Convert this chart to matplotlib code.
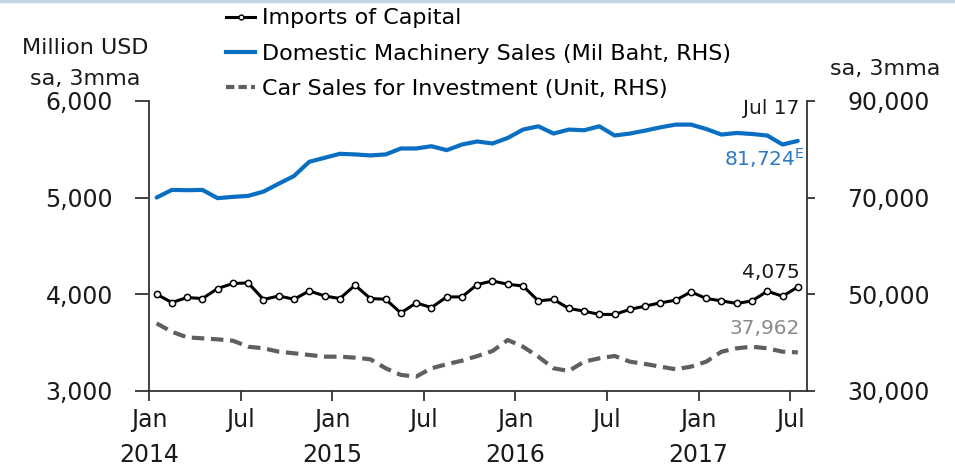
import numpy as np
import matplotlib
matplotlib.use('Agg')
import matplotlib.pyplot as plt
from matplotlib.lines import Line2D

# monthly data, Jan 2014 .. Jul 2017 (sa, 3mma)
imports = [4000, 3914, 3966, 3955, 4059, 4111, 4117, 3945, 3982, 3948,
           4034, 3982, 3955, 4093, 3955, 3948, 3806, 3910, 3862, 3972,
           3972, 4100, 4137, 4103, 4085, 3931, 3946, 3853, 3825, 3791,
           3791, 3843, 3877, 3911, 3938, 4024, 3956, 3931, 3904, 3931,
           4031, 3979, 4075]
machinery = [70000, 71580, 71520, 71580, 69870, 70140, 70340, 71230, 72870, 74460,
             77400, 78220, 79050, 78920, 78710, 78920, 80150, 80150, 80620, 79800,
             80970, 81600, 81180, 82330, 84060, 84740, 83240, 84060, 83920, 84740,
             82830, 83240, 83850, 84530, 85090, 85090, 84180, 83030, 83360, 83150,
             82830, 80970, 81724]
cars = [43960, 42230, 41070, 40870, 40660, 40380, 39140, 38810, 38110, 37780,
        37430, 37080, 37080, 36870, 36540, 34680, 33300, 32950, 34680, 35510,
        36250, 37200, 38250, 40520, 39140, 37080, 34680, 34120, 36040, 36740,
        37220, 36040, 35570, 35010, 34470, 35010, 36040, 38110, 38810, 39140,
        38810, 38110, 37962]

tick_pos = [0, 6, 12, 18, 24, 30, 36, 42]
tick_lab = ['Jan\n2014', 'Jul', 'Jan\n2015', 'Jul', 'Jan\n2016', 'Jul', 'Jan\n2017', 'Jul']

x = np.arange(len(imports)) + 0.5

fig = plt.figure(figsize=(9.55, 4.67), dpi=100)
ax = fig.add_axes([0.156, 0.163, 0.689, 0.621])
ax2 = ax.twinx()

blue = '#0a6fc2'
gray = '#5f5f5f'
spine_c = '#333333'
txt_c = '#1a1a1a'

ax2.plot(x, machinery, color=blue, lw=3, solid_capstyle='round', zorder=3)
ax2.plot(x, cars, color=gray, lw=3, dashes=(3, 1.6), zorder=2)
ax.plot(x, imports, color='black', lw=2.2, marker='o', markersize=4.5,
        markerfacecolor='white', markeredgecolor='black', markeredgewidth=1.1, zorder=4)

ax.set_zorder(ax2.get_zorder() + 1)
ax.patch.set_visible(False)

ax.set_xlim(0, 43.1)
ax.set_ylim(3000, 6000)
ax2.set_ylim(30000, 90000)
ax.set_yticks([3000, 4000, 5000, 6000])
ax.set_yticklabels(['3,000', '4,000', '5,000', '6,000'])
ax2.set_yticks([30000, 50000, 70000, 90000])
ax2.set_yticklabels(['30,000', '50,000', '70,000', '90,000'])
ax.set_xticks(tick_pos)
ax.set_xticklabels(tick_lab, linespacing=1.6, va='top')

for a in (ax, ax2):
    a.spines['top'].set_visible(False)
    for s in a.spines.values():
        s.set_color(spine_c)
        s.set_linewidth(1.3)
ax.spines['right'].set_visible(False)
ax2.spines['left'].set_visible(False)
ax2.spines['bottom'].set_visible(False)

ax.tick_params(axis='y', direction='out', length=10, width=1.3, color=spine_c,
               labelsize=17, pad=16, labelcolor=txt_c)
ax.tick_params(axis='x', direction='out', length=7, width=1.3, color=spine_c,
               labelsize=17, pad=5, labelcolor=txt_c)
ax2.tick_params(axis='y', direction='out', length=6, width=1.3, color=spine_c,
                labelsize=17, pad=23, labelcolor=txt_c)

# end-point annotations
ax2.text(42.6, 88500, 'Jul 17', ha='right', va='center', fontsize=14.5, color=txt_c)
ax2.text(42.95, 78200, r'81,724$^{\mathrm{E}}$', ha='right', va='center', fontsize=14.5, color='#2e78c8')
ax.text(42.6, 4225, '4,075', ha='right', va='center', fontsize=14.5, color=txt_c)
ax.text(42.6, 3644, '37,962', ha='right', va='center', fontsize=14.5, color='#8a8a8a')

# unit labels
fig.text(0.089, 0.897, 'Million USD', ha='center', va='center', fontsize=16, color=txt_c)
fig.text(0.089, 0.83, 'sa, 3mma', ha='center', va='center', fontsize=16, color=txt_c)
fig.text(0.927, 0.853, 'sa, 3mma', ha='center', va='center', fontsize=16, color=txt_c)

handles = [
    Line2D([], [], color='black', lw=2.2, marker='o', markersize=3.5,
           markerfacecolor='white', markeredgecolor='black'),
    Line2D([], [], color=blue, lw=3),
    Line2D([], [], color=gray, lw=3, dashes=(2, 1)),
]
labels = ['Imports of Capital', 'Domestic Machinery Sales (Mil Baht, RHS)',
          'Car Sales for Investment (Unit, RHS)']
fig.legend(handles, labels, loc='upper left', bbox_to_anchor=(0.237, 0.982),
           frameon=False, fontsize=16, handlelength=1.3, handletextpad=0.3,
           labelspacing=0.68, borderaxespad=0.0, borderpad=0.0)

# light top border
fig.add_artist(Line2D([0, 1], [0.997, 0.997], transform=fig.transFigure,
                      color='#c5d4e6', lw=2.5))

fig.savefig('out.png', dpi=100)
